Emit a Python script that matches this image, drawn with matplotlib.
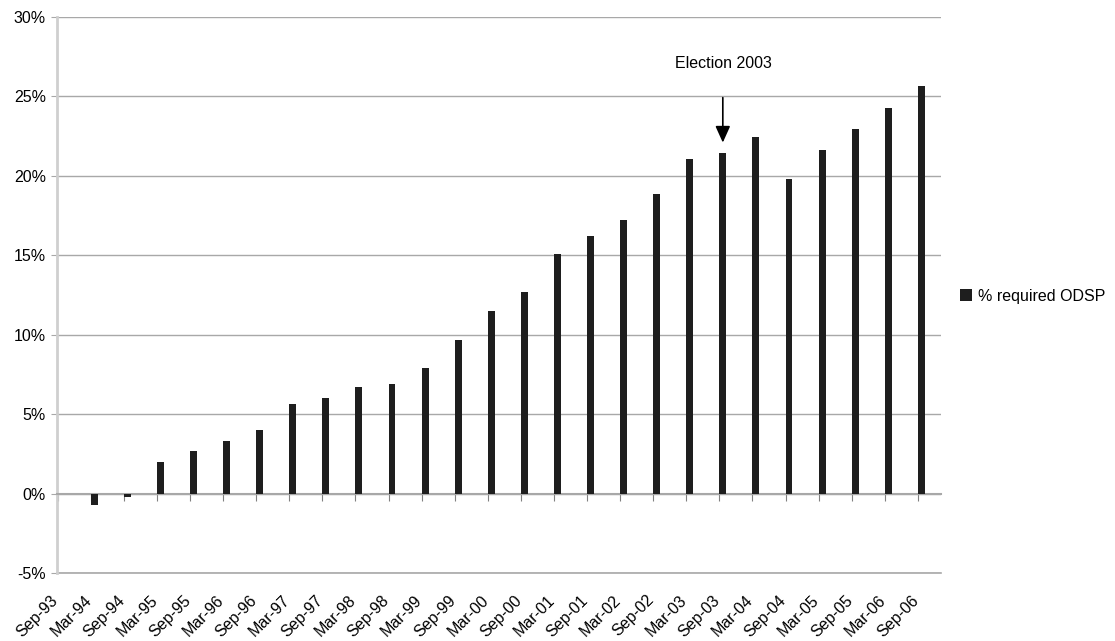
import matplotlib
matplotlib.use("Agg")
import matplotlib.pyplot as plt
from matplotlib.ticker import FuncFormatter
from matplotlib.transforms import ScaledTranslation

plt.rcParams["font.family"] = ["Liberation Sans", "DejaVu Sans"]

# Half-yearly change in caseload, relative to Sep-93
periods = [
    "Sep-93", "Mar-94", "Sep-94", "Mar-95", "Sep-95", "Mar-96", "Sep-96",
    "Mar-97", "Sep-97", "Mar-98", "Sep-98", "Mar-99", "Sep-99", "Mar-00",
    "Sep-00", "Mar-01", "Sep-01", "Mar-02", "Sep-02", "Mar-03", "Sep-03",
    "Mar-04", "Sep-04", "Mar-05", "Sep-05", "Mar-06", "Sep-06",
]
pct_odsp = [
    0.0, -0.75, -0.2, 2.0, 2.68, 3.29, 3.98,
    5.64, 6.02, 6.71, 6.9, 7.88, 9.67, 11.5,
    12.66, 15.05, 16.2, 17.19, 18.85, 21.07, 21.47,
    22.47, 19.79, 21.64, 22.97, 24.3, 25.68,
]
y_ticks = [-5, 0, 5, 10, 15, 20, 25, 30]
election_label = "Election 2003"
election_period = "Sep-03"

BAR_W = 0.21
GRID = "#a8a8a8"

fig = plt.figure(figsize=(11.15, 6.41), dpi=100)
ax = fig.add_axes([57 / 1115, 1 - 573 / 641, (941 - 57) / 1115, (573 - 17) / 641])

x = list(range(len(periods)))
bars = ax.bar(x, pct_odsp, width=BAR_W, align="edge",
              color="#1e1e1e", linewidth=0,
              label="% required ODSP", zorder=3)

ax.set_xlim(-0.02, 26.7)
ax.set_ylim(-5, 30)
ax.set_yticks(y_ticks)
ax.yaxis.set_major_formatter(FuncFormatter(lambda v, _: f"{v:.0f}%"))
ax.grid(axis="y", color=GRID, linewidth=1, zorder=0)
ax.axhline(-5, color=GRID, linewidth=1.2, clip_on=False, zorder=1)
ax.tick_params(axis="y", direction="out", length=4, color=GRID,
               labelsize=11.5, pad=4)

for side in ["top", "right"]:
    ax.spines[side].set_visible(False)
ax.spines["left"].set_color("#cfcfcf")
ax.spines["left"].set_linewidth(2)

# category axis crosses at zero, labels stay at the bottom
ax.spines["bottom"].set_position(("data", 0))
ax.spines["bottom"].set_color(GRID)
ax.spines["bottom"].set_linewidth(1.5)
ax.set_xticks(x)
ax.tick_params(axis="x", direction="out", length=5, color="#808080",
               labelbottom=False)

sec = ax.secondary_xaxis("bottom")
sec.set_xticks(x)
sec.set_xticklabels(periods, rotation=45, ha="right", rotation_mode="anchor",
                    fontsize=11.5)
sec.tick_params(length=0, pad=14)
sec.spines["bottom"].set_visible(False)
shift = ScaledTranslation(-7 / 100, 0, fig.dpi_scale_trans)
for lbl in sec.get_xticklabels():
    lbl.set_transform(lbl.get_transform() + shift)

# arrow marking the 2003 election
i = periods.index(election_period)
xc = i + BAR_W / 2
ax.annotate("", xy=(xc, pct_odsp[i] + 0.45), xytext=(xc, 25.1),
            arrowprops=dict(arrowstyle="-|>,head_width=0.45,head_length=1.0",
                            color="black", linewidth=1.2))
ax.text(xc + 0.03, 27.05, election_label, ha="center", va="center",
        fontsize=11.5)

fig.legend(handles=[bars], loc="center left",
           bbox_to_anchor=(952 / 1115, 1 - 296 / 641), frameon=False,
           handlelength=0.75, handleheight=0.75, handletextpad=0.35,
           borderpad=0, fontsize=11.5)

fig.savefig("out.png", dpi=100)
plt.close(fig)
